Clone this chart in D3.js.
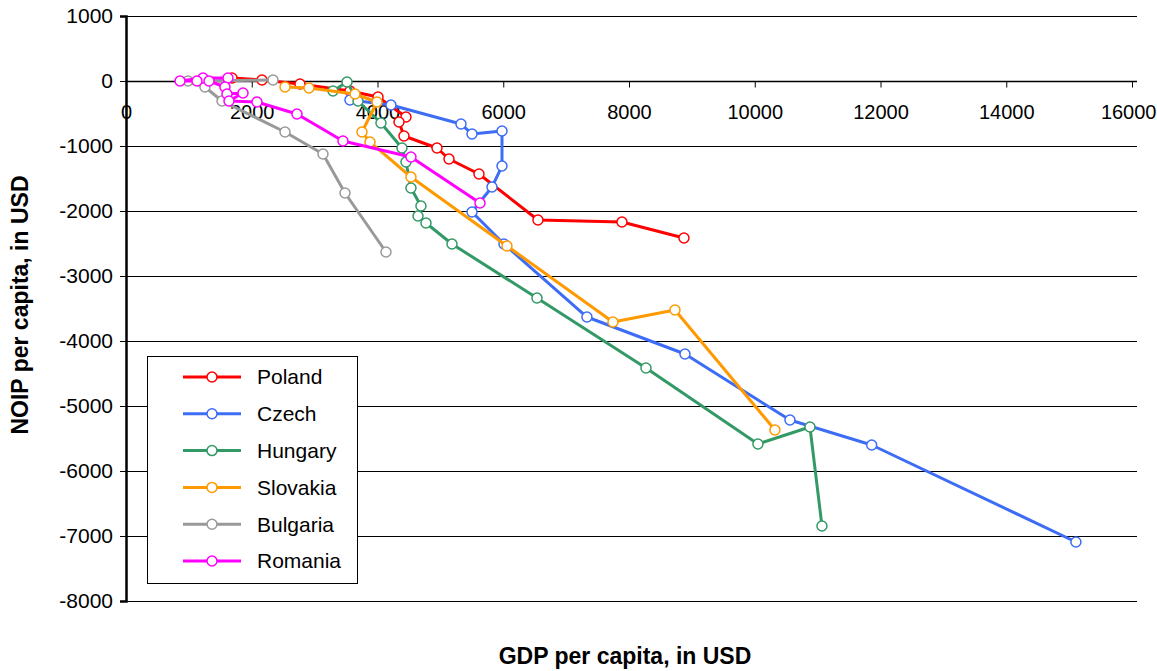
<!DOCTYPE html>
<html lang="en">
  <head>
    <meta charset="utf-8">
    <script src="https://d3js.org/d3.v7.min.js"></script>
    <title>NOIP vs GDP per capita</title>
    <style>
      body {
        margin: 0;
        background-color: #ffffff;
        font-family: Arial, "Liberation Sans", sans-serif;
      }
      .grid line {
        stroke: #000000;
        stroke-width: 1;
        shape-rendering: crispEdges;
      }
      .tick text {
        font-size: 21px;
        fill: #000000;
      }
      .x-axis .tick text {
        font-size: 20px;
      }
      .axis-title {
        font-size: 23px;
        font-weight: bold;
      }
      .legend-text {
        font-size: 21px;
      }
    </style>
  </head>
  <body>
    <div class="chartHolder"></div>
    <script>
      // series: [GDP per capita, NOIP per capita]
      const seriesNames = ['Poland', 'Czech', 'Hungary', 'Slovakia', 'Bulgaria', 'Romania'];
      const seriesColors = ['#ff0000', '#3d6cf5', '#339966', '#ff9900', '#999999', '#ff00ff'];

      const poland = [[1686, 46], [2163, 15], [2767, -46], [3562, -154], [4008, -246], [4453, -554],
        [4342, -631], [4421, -846], [4946, -1031], [5137, -1200], [5614, -1431], [6552, -2138],
        [7888, -2169], [8874, -2415]];
      const czech = [[3562, -292], [4214, -369], [5328, -662], [5503, -815], [5980, -769], [5980, -1308],
        [5821, -1631], [5503, -2015], [6011, -2508], [7331, -3631], [8890, -4200], [10560, -5215],
        [11860, -5600], [15108, -7092]];
      const hungary = [[3292, -154], [3515, -15], [3690, -308], [4055, -646], [4389, -1031], [4453, -1246],
        [4532, -1646], [4691, -1923], [4644, -2077], [4771, -2185], [5185, -2508], [6536, -3338],
        [8270, -4415], [10051, -5585], [10878, -5323], [11069, -6846]];
      const slovakia = [[2529, -92], [2910, -108], [3642, -200], [3992, -323], [3753, -785], [3880, -938],
        [4532, -1477], [6059, -2538], [7745, -3708], [8731, -3523], [10321, -5369]];
      const bulgaria = [[2338, 15], [986, 0], [1256, -92], [1527, -308], [2529, -785], [3133, -1123],
        [3483, -1723], [4135, -2631]];
      const romania = [[1622, 46], [1225, 46], [859, 0], [1129, 0], [1320, 0], [1574, -92], [1606, -200],
        [1861, -185], [1638, -308], [2083, -323], [2719, -508], [3451, -923], [4532, -1169], [5630, -1877]];

      const xTicks = [0, 2000, 4000, 6000, 8000, 10000, 12000, 14000, 16000];
      const yTicks = [1000, 0, -1000, -2000, -3000, -4000, -5000, -6000, -7000, -8000];

      const allSeries = [poland, czech, hungary, slovakia, bulgaria, romania];

      const svgSize = {'width': 1157, 'height': 671};
      const plot = {'left': 126, 'right': 1132, 'top': 16, 'bottom': 601};

      let svg = d3.select('.chartHolder')
        .append('svg')
        .attr('width', svgSize.width)
        .attr('height', svgSize.height);

      let xScale = d3.scaleLinear()
        .domain([0, 16000])
        .range([plot.left, plot.right]);
      let yScale = d3.scaleLinear()
        .domain([-8000, 1000])
        .range([plot.bottom, plot.top]);

      // horizontal gridlines
      svg.append('g')
        .attr('class', 'grid')
        .selectAll('line')
        .data(yTicks)
        .enter()
        .append('line')
          .attr('x1', plot.left)
          .attr('x2', plot.right + 5)
          .attr('y1', (d) => Math.round(yScale(d)) + 0.5)
          .attr('y2', (d) => Math.round(yScale(d)) + 0.5);

      // y axis
      let yAxis = d3.axisLeft(yScale)
        .tickValues(yTicks)
        .tickSize(6)
        .tickPadding(7)
        .tickFormat((d) => String(d));
      let yG = svg.append('g')
        .attr('transform', 'translate(' + plot.left + ', 0)')
        .call(yAxis);
      yG.select('.domain').attr('stroke', '#000').attr('stroke-width', 2.5);
      yG.selectAll('.tick line').attr('stroke', '#000');

      // x axis crosses at y = 0
      let xAxis = d3.axisBottom(xScale)
        .tickValues(xTicks)
        .tickSize(6)
        .tickPadding(17)
        .tickFormat((d) => String(d));
      let xG = svg.append('g')
        .attr('class', 'x-axis')
        .attr('transform', 'translate(0, ' + (Math.round(yScale(0)) + 0.5) + ')')
        .call(xAxis);
      xG.select('.domain').attr('stroke', '#000').attr('stroke-width', 1.5)
        .attr('d', 'M' + plot.left + ',0H' + (plot.right + 5));
      xG.selectAll('.tick line').attr('stroke', '#000');
      // keep the last label inside the page
      xG.selectAll('.tick text')
        .filter((d) => d === 16000)
        .attr('text-anchor', 'end')
        .attr('x', svgSize.width - 1 - xScale(16000));

      // series lines and markers
      let line = d3.line()
        .x((d) => xScale(d[0]))
        .y((d) => yScale(d[1]));

      allSeries.forEach((data, i) => {
        let g = svg.append('g').attr('class', 'series');
        g.append('path')
          .datum(data)
          .attr('d', line)
          .attr('fill', 'none')
          .attr('stroke', seriesColors[i])
          .attr('stroke-width', 3)
          .attr('stroke-linejoin', 'round');
        g.selectAll('circle')
          .data(data)
          .enter()
          .append('circle')
            .attr('cx', (d) => xScale(d[0]))
            .attr('cy', (d) => yScale(d[1]))
            .attr('r', 5)
            .attr('fill', '#ffffff')
            .attr('stroke', seriesColors[i])
            .attr('stroke-width', 1.5);
      });

      // legend
      let legend = svg.append('g')
        .attr('transform', 'translate(147, 356)');
      legend.append('rect')
        .attr('x', 0.5)
        .attr('y', 0.5)
        .attr('width', 210)
        .attr('height', 227)
        .attr('fill', '#ffffff')
        .attr('stroke', '#000')
        .attr('stroke-width', 1);
      let items = legend.selectAll('.item')
        .data(seriesNames)
        .enter()
        .append('g')
          .attr('class', 'item')
          .attr('transform', (d, i) => 'translate(0, ' + (21 + i * 36.8) + ')');
      items.append('line')
        .attr('x1', 36)
        .attr('x2', 94)
        .attr('stroke', (d, i) => seriesColors[i])
        .attr('stroke-width', 3);
      items.append('circle')
        .attr('cx', 65)
        .attr('r', 5)
        .attr('fill', '#ffffff')
        .attr('stroke', (d, i) => seriesColors[i])
        .attr('stroke-width', 1.5);
      items.append('text')
        .attr('class', 'legend-text')
        .attr('x', 110)
        .attr('dy', '0.35em')
        .text((d) => d);

      // axis titles
      svg.append('text')
        .attr('class', 'axis-title')
        .attr('text-anchor', 'middle')
        .attr('x', 625)
        .attr('y', 664)
        .text('GDP per capita, in USD');
      svg.append('text')
        .attr('class', 'axis-title')
        .attr('text-anchor', 'middle')
        .attr('transform', 'translate(28, ' + 305 + ') rotate(-90)')
        .text('NOIP per capita, in USD');
    </script>
  </body>
</html>
